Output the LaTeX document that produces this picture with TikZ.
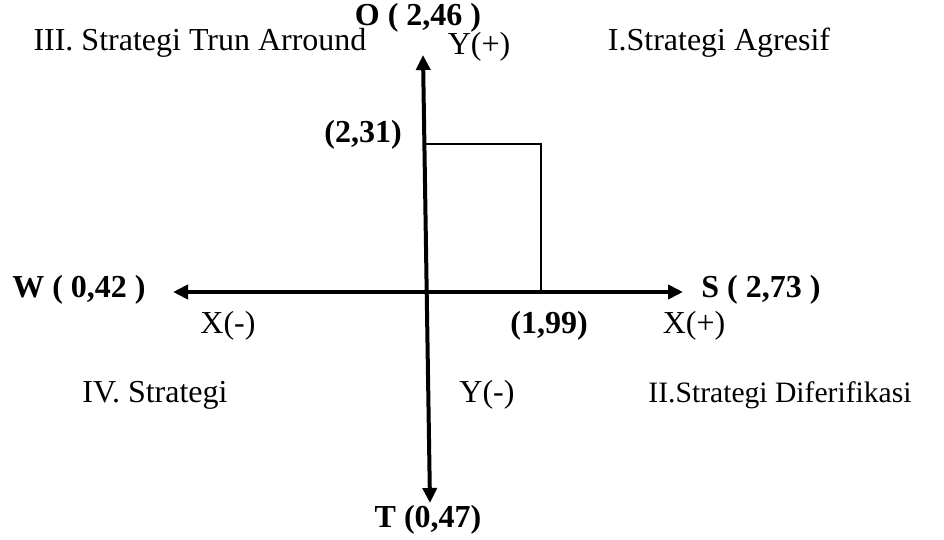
\documentclass[tikz,border=0pt]{standalone}
\usepackage{fontspec}
\setmainfont{Liberation Serif}
\usetikzlibrary{arrows.meta}
\begin{document}
\begin{tikzpicture}[x=0.5pt,y=-0.5pt,
  lbl/.style={inner sep=0pt,font=\fontsize{16}{18}\selectfont},
  blbl/.style={inner sep=0pt,font=\fontsize{16}{18}\selectfont\bfseries},
  axis/.style={line width=2pt,{Triangle[length=7.5pt,width=7pt]}-{Triangle[length=7.5pt,width=7pt]}},
  thin/.style={line width=0.8pt}]
\useasboundingbox (0,0) rectangle (944,540);
% axes end points
\coordinate (top) at (423,55);
\coordinate (bot) at (430,503);
\coordinate (lft) at (173,292);
\coordinate (rgt) at (683,292);
\coordinate (c1) at (424.4,144);
\coordinate (c2) at (541,144);
\coordinate (c3) at (541,292);
\draw[axis] (bot) -- (top);
\draw[axis] (lft) -- (rgt);
\draw[thin] (c1) -- (c2) -- (c3);
% labels
\node[blbl] (O) at (418,18) {O ( 2,46 )};
\node[lbl] (q3) at (200,43) {III. Strategi Trun Arround};
\node[lbl] (yp) at (479,47) {Y(+)};
\node[lbl] (q1) at (719,43) {I.Strategi Agresif};
\node[blbl] (v231) at (363,135) {(2,31)};
\node[blbl] (W) at (79,290) {W ( 0,42 )};
\node[blbl] (S) at (761,290) {S ( 2,73 )};
\node[lbl] (xm) at (228,326) {X(-)};
\node[blbl] (v199) at (549,326) {(1,99)};
\node[lbl] (xp) at (694,326) {X(+)};
\node[lbl] (q4) at (155,395) {IV. Strategi};
\node[lbl] (ym) at (487,395) {Y(-)};
\node[lbl,font=\fontsize{14.8}{17}\selectfont] (q2) at (780,395) {II.Strategi Diferifikasi};
\node[blbl] (T) at (428,520) {T (0,47)};
\end{tikzpicture}
\end{document}
